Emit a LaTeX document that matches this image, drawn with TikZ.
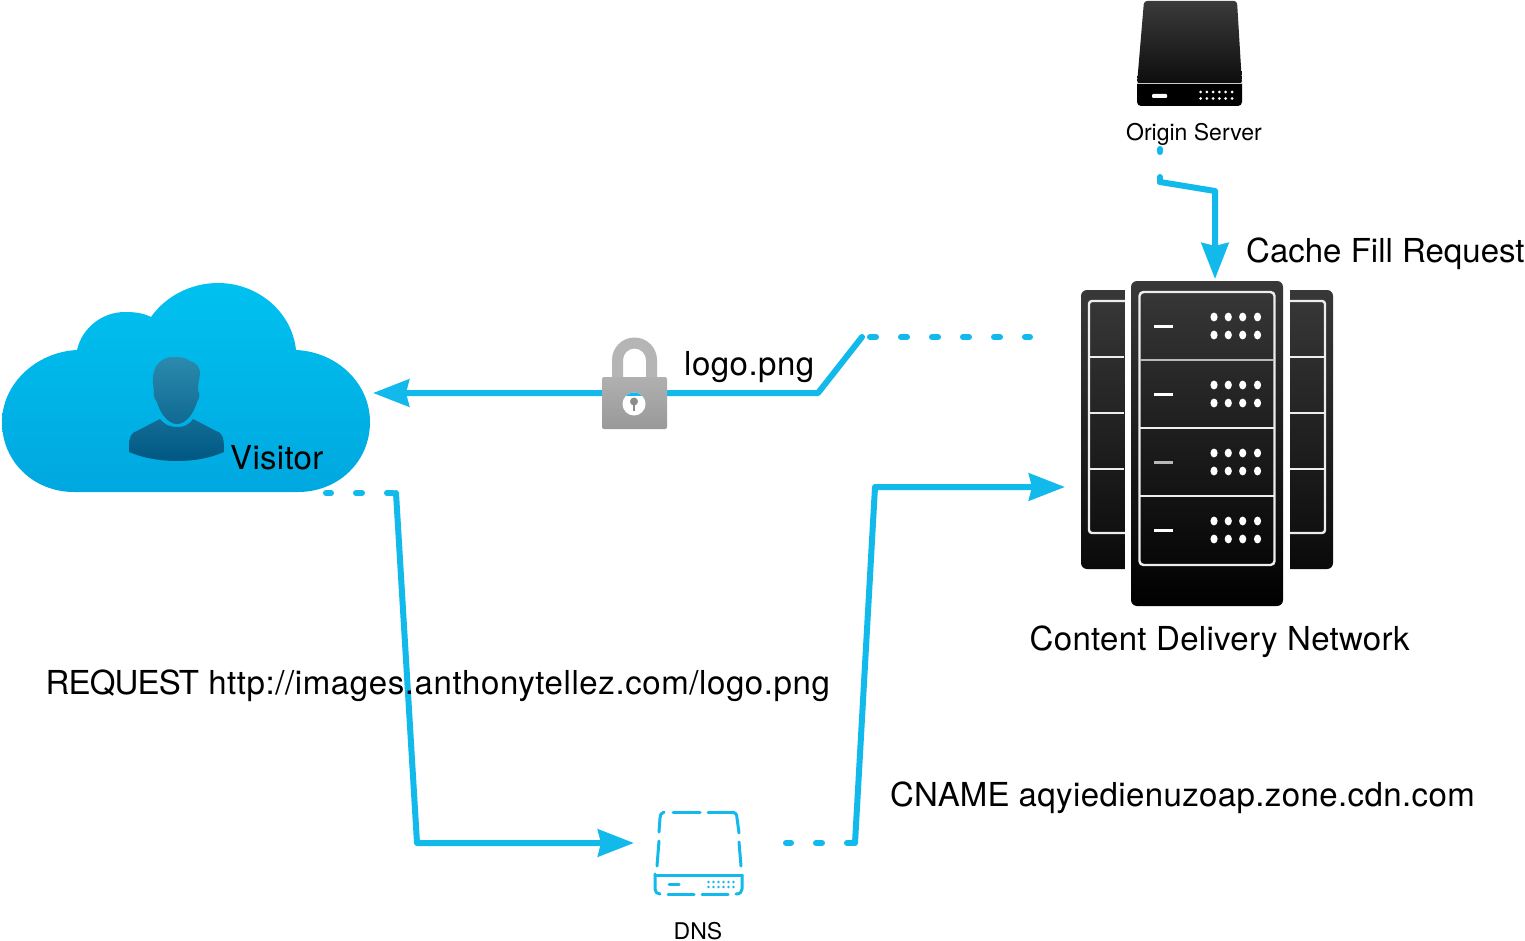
\documentclass[tikz,border=0pt]{standalone}
\usepackage{fontspec}
\setmainfont{TeX Gyre Heros}
\usetikzlibrary{arrows.meta,calc}
\definecolor{linkblue}{HTML}{12B9EB}
\definecolor{cloudtop}{RGB}{0,193,240}
\definecolor{cloudbot}{RGB}{0,168,224}
\definecolor{persontop}{RGB}{44,138,174}
\definecolor{personbot}{RGB}{0,88,130}
\newcommand{\trk}[2]{{\addfontfeature{LetterSpace=#1}#2}}
\tikzset{
  link/.style={draw=linkblue,line width=6pt,line join=round,line cap=round},
  headed/.style={link,-{Stealth[length=36pt,width=27pt,inset=3pt]}},
  dotted link/.style={link,dash pattern=on 6pt off 25pt,dash phase=1pt},
  bigtext/.style={anchor=base west,inner sep=0pt,font=\fontsize{33}{40}\selectfont},
  smalltext/.style={anchor=base,inner sep=0pt,font=\fontsize{23}{28}\selectfont},
  iconbox/.style={inner sep=0pt,outer sep=0pt,minimum width=#1},
  whiteline/.style={draw=white!93!black,line width=2.4pt},
  dnsline/.style={draw=linkblue,line width=3pt,line cap=round,line join=round},
}
\begin{document}
\begin{tikzpicture}[x=1pt,y=-1pt]
\useasboundingbox (0,0) rectangle (1525,941);
\fill[white] (0,0) rectangle (1525,941);

% invisible nodes that carry the icons' extents
\node[iconbox=252pt,minimum height=325pt] (cdn) at (1207,443.5) {};
\node[iconbox=368pt,minimum height=209pt] (visitor) at (186,387.5) {};
\node[iconbox=87pt,minimum height=83pt] (dns) at (698.5,853.5) {};
\node[iconbox=105pt,minimum height=105pt] (origin) at (1189.5,53.5) {};
\node[iconbox=65pt,minimum height=92pt] (lock) at (634.5,383.5) {};

% connector ends and bends
\coordinate (oDot) at ([xshift=-29.5pt,yshift=-43pt]origin.south);
\coordinate (oBend) at (1160,182);
\coordinate (oBendB) at (1215,191);
\coordinate (cdnTop) at ([xshift=8pt,yshift=2pt]cdn.north);
\coordinate (cdnOut) at ([xshift=-51pt,yshift=106.5pt]cdn.west);
\coordinate (cdnBendA) at (862,337);
\coordinate (cdnBendB) at (818,393);
\coordinate (visIn) at ([xshift=3pt,yshift=-5.5pt]visitor.east);
\coordinate (visOut) at ([xshift=140pt,yshift=-1pt]visitor.south);
\coordinate (visBendA) at (396,493);
\coordinate (visBendB) at (417,843);
\coordinate (dnsIn) at ([xshift=-21pt,yshift=10.5pt]dns.west);
\coordinate (dnsOut) at ([xshift=44pt,yshift=10.5pt]dns.east);
\coordinate (dnsBendA) at (855,843);
\coordinate (dnsBendB) at (875,487);
\coordinate (cdnIn) at ([xshift=-16pt,yshift=-43.5pt]cdn.west);

% cloud
\shade[top color=cloudtop,bottom color=cloudbot]
  (77,350) .. controls (82,328) and (102,312) .. (125,312) .. controls (135,312) and (143,313) .. (151,317)
  .. controls (165,297) and (190,283) .. (218,283) .. controls (258,283) and (292,312) .. (296,350)
  .. controls (338,352) and (370,384) .. (370,422) .. controls (370,462) and (338,492) .. (298,492)
  -- (74,492) .. controls (34,492) and (2,462) .. (2,422) .. controls (2,384) and (36,352) .. (77,350) -- cycle;
% person
\shade[top color=persontop,bottom color=personbot]
  (172,357) .. controls (178,357) and (186,357) .. (190,361) .. controls (196,362) and (201,368) .. (200,375)
  .. controls (199,380) and (198,384) .. (198,391) .. controls (200,392) and (200,398) .. (197,402)
  .. controls (194,413) and (186,424) .. (177,424) .. controls (168,424) and (160,413) .. (157,402)
  .. controls (154,398) and (153,394) .. (154,391) .. controls (153,384) and (152,378) .. (154,372)
  .. controls (155,364) and (164,357) .. (172,357) -- cycle
  (160,419) .. controls (165,425) and (170,427) .. (177,427) .. controls (184,427) and (189,425) .. (193,419)
  -- (220,433) .. controls (224,436) and (224,445) .. (224,452) .. controls (210,458) and (195,461) .. (177,461)
  .. controls (160,461) and (143,458) .. (129,452) .. controls (129,445) and (129,436) .. (133,433) -- cycle;

% origin server icon
\shade[top color=black!77,bottom color=black!95,rounded corners=3pt]
  (1144,1) -- (1237,1) -- (1242,84) -- (1137,84) -- cycle;
\begin{scope}
\clip (1130,84) rectangle (1250,110);
\fill[black,rounded corners=4pt] (1137,70) rectangle (1242,106);
\end{scope}
\fill[white!80!black] (1137,82.6) rectangle (1242,84.2);
\fill[white,rounded corners=1pt] (1152,94) rectangle (1167,98);
\foreach \ix in {0,...,5}\foreach \iy in {92,98.5}
  \fill[white] ({1200.5+6.3*\ix},\iy) circle (1.5pt);

% CDN icon
\shade[top color=black!78,bottom color=black!96,rounded corners=6pt]
  (1081,290) rectangle (1135,569);
\shade[top color=black!78,bottom color=black!96,rounded corners=6pt]
  (1280,290) rectangle (1333,569);
\draw[whiteline,rounded corners=3pt] (1130,301) -- (1089,301) -- (1089,533) -- (1130,533);
\draw[whiteline,rounded corners=3pt] (1285,301) -- (1325,301) -- (1325,533) -- (1285,533);
\foreach \yy in {357,413,469}{
  \draw[whiteline] (1089,\yy) -- (1124,\yy);
  \draw[whiteline] (1290,\yy) -- (1325,\yy);
}
\fill[white] (1125,285) rectangle (1131,575);
\fill[white] (1283,285) rectangle (1290,575);
\shade[top color=black!78,bottom color=black,rounded corners=6pt]
  (1131,281) rectangle (1283,606);
\draw[whiteline,rounded corners=4pt] (1139.5,292) rectangle (1274.5,565);
\draw[draw=white!72!black,line width=2.6pt] (1140,360) -- (1274,360);
\draw[whiteline] (1140,428) -- (1274,428);
\draw[whiteline] (1140,496) -- (1274,496);
\foreach \yy/\shadeval in {326/white,394/white,462/white!72!black,530/white}
  \fill[\shadeval] (1154,\yy-1.5) rectangle (1173,\yy+1.5);
\foreach \yy in {317,335,385,403,453,471,521,539}
  \foreach \xx in {1214,1228.3,1242.7,1257.5}
    \fill[white] (\xx,\yy) ellipse [x radius=3.6pt,y radius=4.4pt];

% connectors
\draw[dotted link] (oBend) -- (oDot);
\draw[headed] (oBend) -- (oBendB) -- (cdnTop);
\draw[dotted link] (cdnOut) -- (cdnBendA);
\draw[headed] (cdnBendA) -- (cdnBendB) -- (visIn);
\draw[dotted link] (visOut) -- (visBendA);
\draw[headed] (visBendA) -- (visBendB) -- (dnsIn);
\draw[dotted link] (dnsOut) -- (dnsBendA);
\draw[headed] (dnsBendA) -- (dnsBendB) -- (cdnIn);

% padlock
\fill[white!71!black,even odd rule]
  (612,377) -- (612,360) arc[start angle=180,end angle=0,radius=22.5pt] -- (657,377) -- cycle
  (623,377) -- (623,360) arc[start angle=180,end angle=0,radius=11.5pt] -- (646,377) -- cycle;
\shade[top color=white!69!black,bottom color=white!60!black,rounded corners=2pt]
  (602,377) rectangle (667,429);
\begin{scope}
\fill[white] (634,404) circle (11.5pt);
\clip (634,404) circle (11.5pt);
\fill[linkblue] (620,390) rectangle (648,396);
\end{scope}
\fill[white!55!black] (634,401.5) circle (4pt);
\fill[white!55!black] (632.6,402) rectangle (635.4,411);

% DNS icon
\draw[dnsline] (673,812) -- (700,812);
\draw[dnsline] (708,812) -- (734,812);
\draw[dnsline] (664,812) .. controls (661,813) and (660,815) .. (660,818) -- (659,832);
\draw[dnsline] (659,841) -- (657,866);
\draw[dnsline] (732,812) .. controls (735,812) and (737,814) .. (737,818) -- (739,833);
\draw[dnsline] (739,842) -- (741,866);
\draw[dnsline] (655,875) -- (742,875);
\draw[dnsline] (655,874) -- (655,889) .. controls (655,892) and (657,894) .. (660,894);
\draw[dnsline] (668,894) -- (694,894);
\draw[dnsline] (702,894) -- (728,894);
\draw[dnsline] (736,894) .. controls (740,894) and (742,892) .. (742,889) -- (742,875);
\draw[dnsline] (669,884) -- (679,884);
\foreach \ix in {0,...,5}\foreach \iy in {882,887}
  \fill[linkblue] ({708.5+5*\ix},\iy) circle (1.4pt);

% labels
\node[smalltext] (originLabel) at (1194,141) {Origin Server};
\node[smalltext] (dnsLabel) at (698,939) {DNS};
\node[bigtext] (visitorLabel) at (230,469) {\trk{0.9}{Visitor}};
\node[bigtext] (logoLabel) at (684,375.5) {\trk{1.5}{logo.png}};
\node[bigtext] (cacheLabel) at (1246,262) {Cache Fill Request};
\node[bigtext] (cdnLabel) at (1029.5,650) {\trk{0.95}{Content Delivery Network}};
\node[bigtext] (requestLabel) at (45.5,694) {\trk{-2.6}{REQUEST} \trk{1.8}{http://images.anthonytellez.com/logo.png}};
\node[bigtext] (cnameLabel) at (890,806) {\trk{0.4}{CNAME} \trk{1.2}{aqyiedienuzoap.zone.cdn.com}};
\end{tikzpicture}
\end{document}
